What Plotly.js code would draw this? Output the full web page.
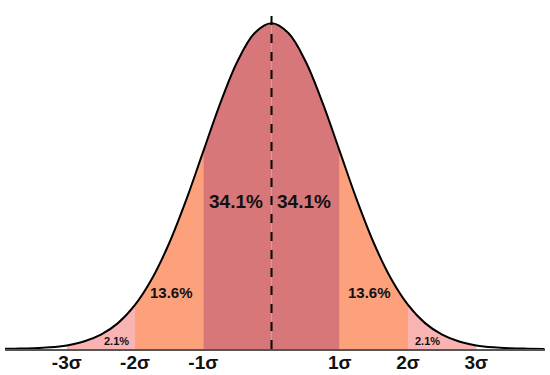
<!DOCTYPE html>
<html>
<head>
<meta charset="utf-8">
<script src="https://cdn.plot.ly/plotly-3.0.1.min.js"></script>
<style>
  html, body { margin: 0; padding: 0; background: #fff; }
  #plotArea { width: 550px; height: 375px; }
</style>
</head>
<body>
<div id="plotArea"></div>
<script>
// curve, in sigma units (x) and density (y)
var curveX = [-4, -3.75, -3.5, -3.25, -3, -2.75, -2.5, -2.25, -2, -1.75, -1.5, -1.25, -1, -0.75, -0.5, -0.25,
              0, 0.25, 0.5, 0.75, 1, 1.25, 1.5, 1.75, 2, 2.25, 2.5, 2.75, 3, 3.25, 3.5, 3.75, 4];
var curveY = [0.0001, 0.0004, 0.0009, 0.0020, 0.0044, 0.0091, 0.0175, 0.0317, 0.0540, 0.0863, 0.1295, 0.1826, 0.2420, 0.3011, 0.3521, 0.3867,
              0.3989, 0.3867, 0.3521, 0.3011, 0.2420, 0.1826, 0.1295, 0.0863, 0.0540, 0.0317, 0.0175, 0.0091, 0.0044, 0.0020, 0.0009, 0.0004, 0.0001];

// shaded bands between sigma boundaries
var bandFrom = [-3, -2, -1, 0, 1, 2];
var bandTo = [-2, -1, 0, 1, 2, 3];
var bandColors = ["#f9b3b2", "#fca17c", "#d8777a", "#d8777a", "#fca17c", "#f9b3b2"];

// percentage labels
var pctText = ["2.1%", "13.6%", "34.1%", "34.1%", "13.6%", "2.1%"];
var pctX = [-2.27, -1.47, -0.52, 0.48, 1.43, 2.29];
var pctY = [0.0104, 0.0686, 0.1807, 0.1807, 0.0686, 0.0098];
var pctSize = [11, 15, 19, 19, 15, 11];

// tick labels
var tickPos = [-3, -2, -1, 1, 2, 3];
var tickText = ["-3σ", "-2σ", "-1σ", "1σ", "2σ", "3σ"];

var data = [];
bandFrom.forEach(function(a, i) {
    var xs = [], ys = [];
    curveX.forEach(function(x, j) {
        if (x >= a && x <= bandTo[i]) { xs.push(x); ys.push(curveY[j]); }
    });
    data.push({
        x: xs, y: ys,
        type: "scatter", mode: "lines",
        fill: "tozeroy", fillcolor: bandColors[i],
        line: {width: 0, shape: "spline", color: bandColors[i]},
        hoverinfo: "skip", showlegend: false
    });
});

data.push({
    x: curveX, y: curveY,
    type: "scatter", mode: "lines",
    line: {color: "#000", width: 2, shape: "spline"},
    hoverinfo: "skip", showlegend: false
});

var annotations = pctText.map(function(t, i) {
    return {
        x: pctX[i], y: pctY[i], xref: "x", yref: "y",
        text: "<b>" + t + "</b>", showarrow: false,
        font: {family: "Liberation Sans, Arial", size: pctSize[i], color: "#111"}
    };
});

var layout = {
    width: 550, height: 375,
    margin: {l: 5, r: 5, t: 5, b: 26},
    paper_bgcolor: "#fff", plot_bgcolor: "#fff",
    showlegend: false,
    xaxis: {
        range: [-3.905, 4.007], showgrid: false, zeroline: false,
        showline: true, linecolor: "#555", linewidth: 2,
        tickvals: tickPos, ticktext: tickText.map(function(t) { return "<b>" + t + "</b>"; }),
        ticks: "", tickfont: {family: "Liberation Sans, Arial", size: 19, color: "#111"},
        ticklabelstandoff: -5,
        automargin: false, fixedrange: true
    },
    yaxis: {
        range: [0, 0.4213], visible: false, fixedrange: true
    },
    shapes: [{
        type: "line", xref: "x", yref: "y",
        x0: 0, x1: 0, y0: 0, y1: 0.4173,
        line: {color: "#000", width: 2, dash: "dash"}, layer: "above"
    }],
    annotations: annotations
};

Plotly.newPlot("plotArea", data, layout, {displayModeBar: false, staticPlot: true});
</script>
</body>
</html>
